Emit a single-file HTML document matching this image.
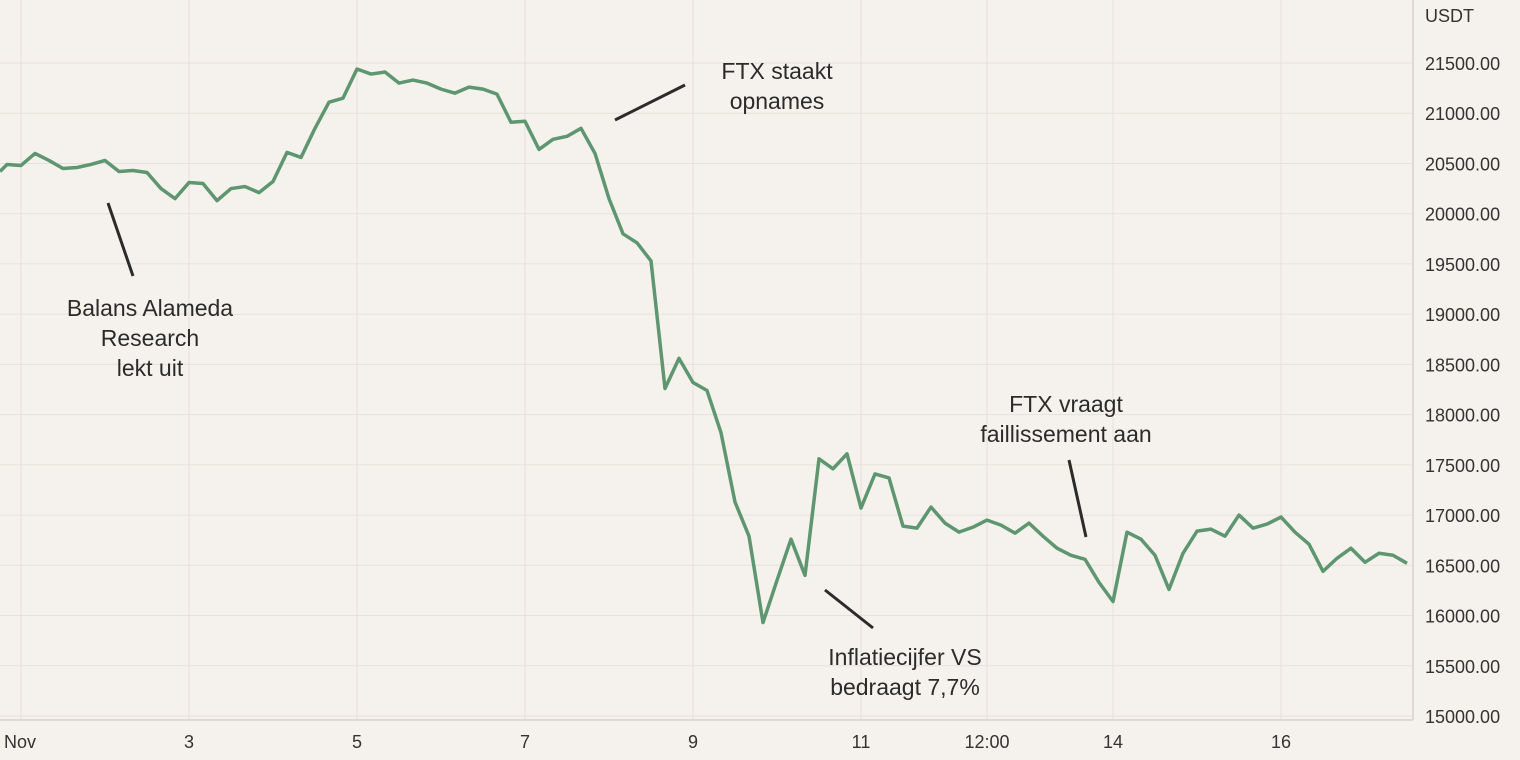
<!DOCTYPE html>
<html><head><meta charset="utf-8"><style>
body{margin:0;background:#f5f2ed;}
svg{display:block;font-family:"Liberation Sans",sans-serif;}
</style></head><body>
<svg id="chart" width="1520" height="760" viewBox="0 0 1520 760">
<rect width="1520" height="760" fill="#f5f2ed"/>
<g id="grid"></g><g id="axes"></g><g id="series"></g><g id="notes"></g>
</svg>
<script>
const yTicks=[15000,15500,16000,16500,17000,17500,18000,18500,19000,19500,20000,20500,21000,21500];
const xTickDays=[1,3,5,7,9,11,12.5,14,16];
const xTickLabels=["Nov","3","5","7","9","11","12:00","14","16"];
const startHour=-4;
const stepHours=4;
const prices=[20490,20480,20600,20530,20450,20460,20490,20530,20420,20430,20410,20250,20150,20310,20300,20130,20250,20270,20210,20320,20610,20560,20850,21110,21150,21440,21390,21410,21300,21330,21300,21240,21200,21260,21240,21190,20910,20920,20640,20740,20770,20850,20600,20150,19800,19710,19530,18260,18560,18320,18240,17820,17130,16790,15930,16350,16760,16400,17560,17460,17610,17070,17410,17370,16890,16870,17080,16920,16830,16880,16950,16900,16820,16920,16790,16670,16600,16560,16330,16140,16830,16760,16600,16260,16620,16840,16860,16790,17000,16870,16910,16980,16830,16710,16440,16570,16670,16530,16620,16600,16520];
const ns="http://www.w3.org/2000/svg";
const xDay=d=>21+(d-1)*84;
const xHour=h=>xDay(1+h/24);
const yP=p=>716-(p-15000)*(653/6500);
function mk(tag,attrs,parent,text){const e=document.createElementNS(ns,tag);for(const k in attrs)e.setAttribute(k,attrs[k]);if(text!==undefined)e.textContent=text;parent.appendChild(e);return e;}
const grid=document.getElementById('grid'),axes=document.getElementById('axes'),series=document.getElementById('series'),notes=document.getElementById('notes');
yTicks.forEach(v=>{
 const l=mk('line',{x1:0,x2:1413,y1:yP(v),y2:yP(v),stroke:'#e6e1d9','stroke-width':1},grid);
 
 
 const t=mk('text',{x:1425,y:yP(v)+7,'font-size':18,fill:'#333'},axes,v.toFixed(2));
 
 
});
xTickDays.forEach((d,i)=>{
 const l=mk('line',{x1:xDay(d),x2:xDay(d),y1:0,y2:720,stroke:'#e6e1d9','stroke-width':1},grid);
 
 
 const t=mk('text',{x:i===0?4:xDay(d),y:748,'font-size':18,fill:'#333','text-anchor':i===0?'start':'middle'},axes,xTickLabels[i]);
 
 
});
const ax=mk('line',{x1:0,x2:1413,y1:720,y2:720,stroke:'#d8d2c8','stroke-width':1.5},axes);


const ay=mk('line',{x1:1413,x2:1413,y1:0,y2:720,stroke:'#d8d2c8','stroke-width':1.5},axes);


const unit=mk('text',{x:1425,y:22,'font-size':18,fill:'#333'},axes,'USDT');


let pts=[[0,yP(20420)]].concat(prices.map((p,i)=>[xHour(startHour+i*stepHours),yP(p)]));
const path=mk('polyline',{points:pts.map(p=>p.join(',')).join(' '),fill:'none',stroke:'#5e9670','stroke-width':3.5,'stroke-linejoin':'round'},series);


const ann=[
 {l:[108,203,133,276],t:["Balans Alameda","Research","lekt uit"],x:150,y:316,n:'annotation-alameda'},
 {l:[615,120,685,85],t:["FTX staakt","opnames"],x:777,y:79,n:'annotation-ftx-withdrawals'},
 {l:[825,590,873,628],t:["Inflatiecijfer VS","bedraagt 7,7%"],x:905,y:665,n:'annotation-inflation'},
 {l:[1069,460,1086,537],t:["FTX vraagt","faillissement aan"],x:1066,y:412,n:'annotation-bankruptcy'}
];
ann.forEach(a=>{
 const g=mk('g',{},notes);
 
 
 mk('line',{x1:a.l[0],y1:a.l[1],x2:a.l[2],y2:a.l[3],stroke:'#2b2b2b','stroke-width':3},g);
 a.t.forEach((s,i)=>mk('text',{x:a.x,y:a.y+i*30,'font-size':23,fill:'#2b2b2b','text-anchor':'middle'},g,s));
});
</script>
</body></html>
